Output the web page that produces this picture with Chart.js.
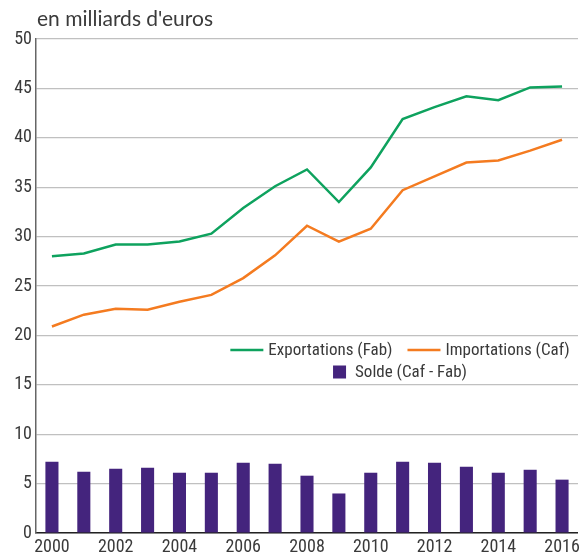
<!DOCTYPE html>
<html>
<head>
<meta charset="utf-8">
<script src="https://cdn.jsdelivr.net/npm/chart.js@4.4.1/dist/chart.umd.min.js"></script>
<style>
  html, body { margin: 0; padding: 0; background: #fff; }
  #wrap { position: relative; width: 584px; height: 559px; }
</style>
</head>
<body>
<div id="wrap"><canvas id="c" width="584" height="559"></canvas></div>
<script>
const years = ['2000','2001','2002','2003','2004','2005','2006','2007','2008','2009','2010','2011','2012','2013','2014','2015','2016'];
const exportations = [28.0, 28.3, 29.2, 29.2, 29.5, 30.3, 32.9, 35.1, 36.8, 33.5, 37.0, 41.9, 43.1, 44.2, 43.8, 45.1, 45.2];
const importations = [20.9, 22.1, 22.7, 22.6, 23.4, 24.1, 25.8, 28.1, 31.1, 29.5, 30.8, 34.7, 36.1, 37.5, 37.7, 38.7, 39.8];
const solde = [7.2, 6.2, 6.5, 6.6, 6.1, 6.1, 7.1, 7.0, 5.8, 4.0, 6.1, 7.2, 7.1, 6.7, 6.1, 6.4, 5.4];
const unitLabel = "en milliards d'euros";

const narrow = '"Roboto Condensed", "DejaVu Sans Condensed", sans-serif';
const textColor = '#3a3a3a';

// titre + légende dessinés à la main dans le graphique
const overlay = {
  id: 'overlay',
  afterDraw(chart) {
    const ctx = chart.ctx;
    const area = chart.chartArea;
    ctx.save();
    ctx.fillStyle = textColor;
    ctx.font = '21px Lato, sans-serif';
    ctx.textBaseline = 'alphabetic';
    ctx.textAlign = 'left';
    ctx.fillText(unitLabel, area.left + 1, 26);

    ctx.font = '17px ' + narrow;
    ctx.textBaseline = 'middle';
    const ds = chart.data.datasets;
    const cx = area.left + 364;
    const row1 = area.top + 311;
    const row2 = area.top + 333;
    const lineLen = 33, gap = 5, between = 15;
    const w0 = ctx.measureText(ds[0].label).width;
    const w1 = ctx.measureText(ds[1].label).width;
    const total1 = lineLen + gap + w0 + between + lineLen + gap + w1;
    let x = cx - total1 / 2;
    [ds[0], ds[1]].forEach((d, i) => {
      ctx.strokeStyle = d.borderColor;
      ctx.lineWidth = 2.5;
      ctx.beginPath();
      ctx.moveTo(x, row1);
      ctx.lineTo(x + lineLen, row1);
      ctx.stroke();
      x += lineLen + gap;
      ctx.fillText(d.label, x, row1 + 1);
      x += (i === 0 ? w0 : w1) + between;
    });
    const w2 = ctx.measureText(ds[2].label).width;
    const total2 = 13 + 9 + w2;
    x = cx - total2 / 2;
    ctx.fillStyle = ds[2].backgroundColor;
    ctx.fillRect(x, row2 - 6.5, 13, 13);
    ctx.fillStyle = textColor;
    ctx.fillText(ds[2].label, x + 22, row2 + 1);
    ctx.restore();
  }
};

new Chart(document.getElementById('c'), {
  type: 'bar',
  data: {
    labels: years,
    datasets: [
      {
        type: 'line',
        label: 'Exportations (Fab)',
        data: exportations,
        borderColor: '#0ea25e',
        backgroundColor: '#0ea25e',
        borderWidth: 2.5,
        pointRadius: 0,
        tension: 0,
        order: 1
      },
      {
        type: 'line',
        label: 'Importations (Caf)',
        data: importations,
        borderColor: '#f47b20',
        backgroundColor: '#f47b20',
        borderWidth: 2.5,
        pointRadius: 0,
        tension: 0,
        order: 2
      },
      {
        type: 'bar',
        label: 'Solde (Caf - Fab)',
        data: solde,
        backgroundColor: '#44247d',
        barPercentage: 0.41,
        categoryPercentage: 1,
        order: 3
      }
    ]
  },
  options: {
    responsive: false,
    animation: false,
    layout: { padding: { left: 0, top: 39, right: 6, bottom: 0 } },
    plugins: {
      legend: { display: false },
      title: { display: false },
      tooltip: { enabled: false }
    },
    scales: {
      x: {
        offset: true,
        grid: { display: false, drawTicks: false },
        border: { color: '#222', width: 1.5 },
        ticks: {
          autoSkip: false,
          maxRotation: 0,
          padding: 4,
          color: textColor,
          font: { family: narrow, size: 18 },
          callback: function(v, i) { return i % 2 === 0 ? years[i] : ''; }
        },
        afterFit: function(s) { s.height = 26; }
      },
      y: {
        min: 0,
        max: 50,
        grid: { color: '#c0c0c0', lineWidth: 1.2, drawTicks: false },
        border: { color: '#666', width: 1.5 },
        ticks: {
          stepSize: 5,
          padding: 4,
          color: textColor,
          font: { family: narrow, size: 18 }
        },
        afterFit: function(s) { s.width = 36; }
      }
    }
  },
  plugins: [overlay]
});
</script>
</body>
</html>
